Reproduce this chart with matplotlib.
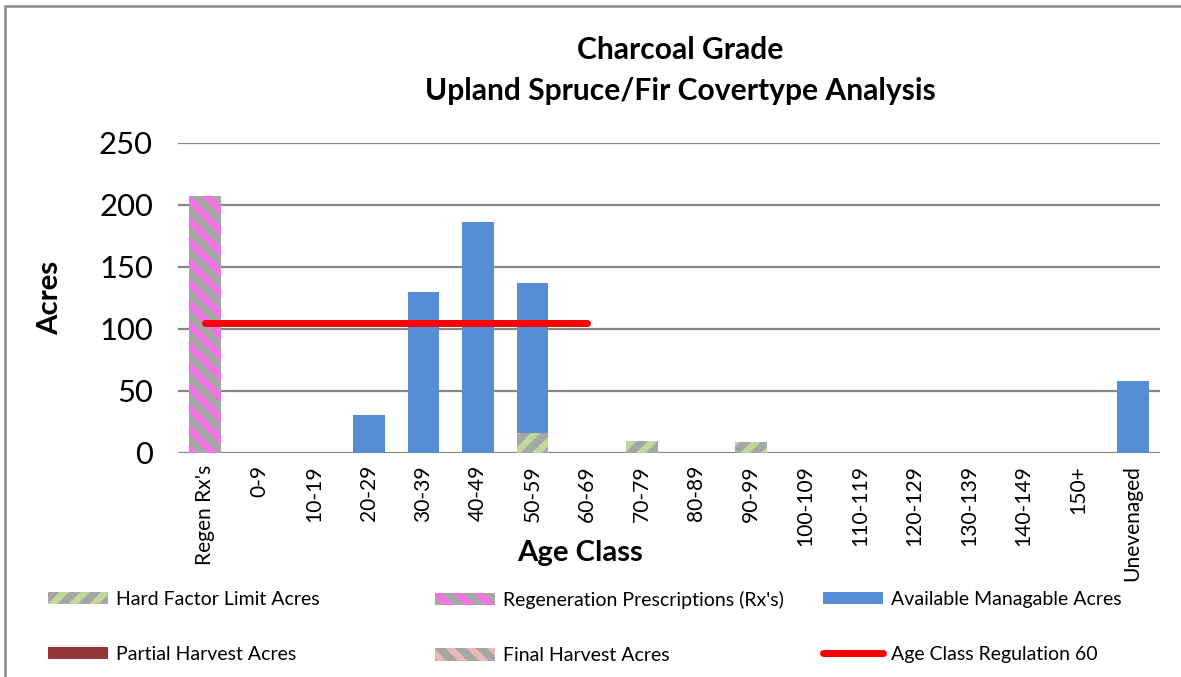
import numpy as np
import matplotlib
matplotlib.use("Agg")
import matplotlib.pyplot as plt
from matplotlib.patches import Rectangle

categories = ["Regen Rx's", "0-9", "10-19", "20-29", "30-39", "40-49", "50-59",
              "60-69", "70-79", "80-89", "90-99", "100-109", "110-119", "120-129",
              "130-139", "140-149", "150+", "Unevenaged"]
hard_factor = [0, 0, 0, 0, 0, 0, 16, 0, 10, 0, 9, 0, 0, 0, 0, 0, 0, 0]
regen_rx = [207, 0, 0, 0, 0, 0, 0, 0, 0, 0, 0, 0, 0, 0, 0, 0, 0, 0]
available = [0, 0, 0, 31, 130, 186, 121, 0, 0, 0, 0, 0, 0, 0, 0, 0, 0, 58]
partial = [0] * 18
final = [0] * 18
regulation = [105, 105, 105, 105, 105, 105, 105, 105] + [np.nan] * 10
yticks = [0, 50, 100, 150, 200, 250]

DPI = 125
W, H = 1181, 677
def pt(px):
    return px * 72.0 / DPI

plt.rcParams['font.family'] = ['Lato', 'DejaVu Sans']
plt.rcParams['hatch.linewidth'] = pt(8)

fig = plt.figure(figsize=(W / DPI, H / DPI), dpi=DPI)
ax = fig.add_axes([178 / W, 1 - 453 / H, (1160 - 178) / W, (453 - 143) / H])

x = np.arange(len(categories))
bw = 0.58
gray = '#A6A6A6'
b = np.zeros(len(x))
h1 = ax.bar(x, hard_factor, bw, bottom=b, color='#C3D69B', edgecolor=gray, hatch='//', linewidth=0,
            label='Hard Factor Limit Acres', zorder=2)
b += hard_factor
h2 = ax.bar(x, regen_rx, bw, bottom=b, color='#F472E6', edgecolor=gray, hatch='\\\\', linewidth=0,
            label="Regeneration Prescriptions (Rx's)", zorder=2)
b += regen_rx
h3 = ax.bar(x, available, bw, bottom=b, color='#558ED5', linewidth=0,
            label='Available Managable Acres', zorder=2)
b += available
h4 = ax.bar(x, partial, bw, bottom=b, color='#953735', linewidth=0,
            label='Partial Harvest Acres', zorder=2)
b += partial
h5 = ax.bar(x, final, bw, bottom=b, color='#E6B9B8', edgecolor=gray, hatch='\\\\', linewidth=0,
            label='Final Harvest Acres', zorder=2)
h6, = ax.plot(x, regulation, color='#FF0000', linewidth=pt(7), solid_capstyle='round',
              label='Age Class Regulation 60', zorder=3)

ax.set_xlim(-0.5, len(x) - 0.5)
ax.set_ylim(0, 250)
ax.set_yticks(yticks)
ax.set_yticklabels([str(v) for v in yticks], fontsize=pt(31))
ax.set_xticks(x)
ax.set_xticklabels(categories, rotation=90, fontsize=pt(21))
ax.tick_params(length=0, pad=pt(12))
ax.tick_params(axis='y', pad=pt(25))
for s in ax.spines.values():
    s.set_visible(False)
ax.grid(axis='y', color='#868686', linewidth=pt(2.2), zorder=0)
ax.set_axisbelow(True)

fig.text(680 / W, 1 - 50 / H, "Charcoal Grade", ha='center', va='center',
         fontsize=pt(30), fontweight='bold')
fig.text(680 / W, 1 - 91 / H, "Upland Spruce/Fir Covertype Analysis", ha='center', va='center',
         fontsize=pt(30), fontweight='bold')
fig.text(50 / W, 1 - 298 / H, "Acres", rotation=90, ha='center', va='center',
         fontsize=pt(29.5), fontweight='bold')
fig.text(580 / W, 1 - 553 / H, "Age Class", ha='center', va='center',
         fontsize=pt(29.3), fontweight='bold')

fs = 19.5
cols = [([h1, h4], ['Hard Factor Limit Acres', 'Partial Harvest Acres'], 48),
        ([h2, h5], ["Regeneration Prescriptions (Rx's)", 'Final Harvest Acres'], 435),
        ([h3, h6], ['Available Managable Acres', 'Age Class Regulation 60'], 823)]
for handles, labels, px in cols:
    fig.legend(handles, labels, loc='upper left',
               bbox_to_anchor=(px / W, 1 - 591 / H), frameon=False,
               fontsize=pt(fs), handlelength=60 / fs, handleheight=12 / fs,
               handletextpad=8 / fs, labelspacing=1.95, borderpad=0, borderaxespad=0)

fig.patches.append(Rectangle((5 / W, -0.05), 1.1, 1 - 6 / H + 0.05, transform=fig.transFigure,
                             fill=False, edgecolor='#8C8C8C', linewidth=pt(2.5), zorder=10))

fig.savefig('out.png', dpi=DPI)
